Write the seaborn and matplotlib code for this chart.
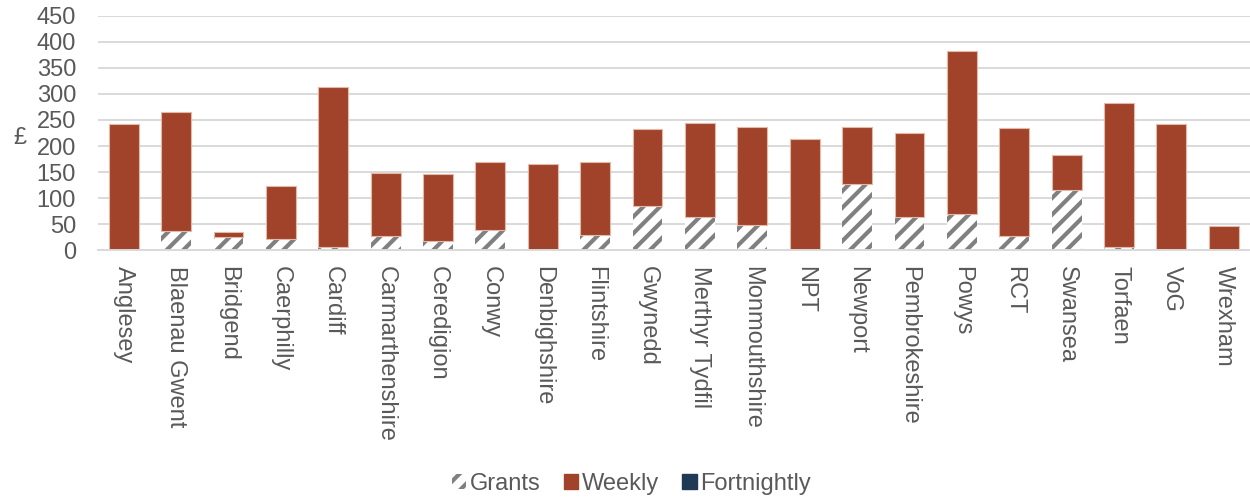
import matplotlib
matplotlib.use("Agg")
import matplotlib.pyplot as plt
from matplotlib.patches import Patch
import seaborn as sns
import pandas as pd
import numpy as np

categories = ["Anglesey", "Blaenau Gwent", "Bridgend", "Caerphilly", "Cardiff",
              "Carmarthenshire", "Ceredigion", "Conwy", "Denbighshire", "Flintshire",
              "Gwynedd", "Merthyr Tydfil", "Monmouthshire", "NPT", "Newport",
              "Pembrokeshire", "Powys", "RCT", "Swansea", "Torfaen", "VoG", "Wrexham"]
grants = [0, 37, 26, 21, 6, 28, 18, 38, 0, 29,
          85, 64, 49, 0, 128, 63, 70, 28, 116, 6, 0, 0]
weekly = [242, 229, 9, 102, 308, 120, 128, 131, 165, 141,
          147, 180, 188, 213, 108, 162, 312, 206, 67, 277, 242, 47]
fortnightly = [0] * 22
y_ticks = [0, 50, 100, 150, 200, 250, 300, 350, 400, 450]

df = pd.DataFrame({"category": categories, "grants": grants,
                   "weekly": weekly, "fortnightly": fortnightly})

sns.set_theme(style="white")
plt.rcParams["font.family"] = ["Liberation Sans", "DejaVu Sans"]
plt.rcParams["hatch.linewidth"] = 3.0

C_WEEK = "#A0432A"
C_FORT = "#1F3A55"
C_HATCH = "#808080"
TXT = "#595959"

fig = plt.figure(figsize=(12.5, 4.98), dpi=100)
ax = fig.add_axes([0.078, 0.4974, 0.922, 0.4711])

W = 0.57
sns.barplot(data=df, x="category", y="grants", color="white", saturation=1,
            width=W, edgecolor=C_HATCH, linewidth=0, hatch="//", ax=ax,
            order=categories)
sns.barplot(data=df, x="category", y="weekly", color=C_WEEK, saturation=1,
            width=W, edgecolor="#E6B8A8", linewidth=0.8, ax=ax, order=categories,
            bottom=df["grants"].values)
sns.barplot(data=df, x="category", y="fortnightly", color=C_FORT, saturation=1,
            width=W, linewidth=0, ax=ax, order=categories,
            bottom=(df["grants"] + df["weekly"]).values)

ax.set_ylim(0, 450)
ax.set_yticks(y_ticks)
ax.set_xlim(-0.5, len(categories) - 0.5)
ax.set_xlabel("")
ax.set_ylabel("")
ax.yaxis.grid(True, color="#D9D9D9", linewidth=1.4)
ax.set_axisbelow(True)
for s in ["top", "right", "left"]:
    ax.spines[s].set_visible(False)
ax.spines["bottom"].set_color("#D9D9D9")
ax.spines["bottom"].set_linewidth(1.4)

ax.tick_params(axis="y", length=0, pad=15.5, labelsize=17, labelcolor=TXT)
ax.tick_params(axis="x", which="major", length=0, pad=11, labelsize=17,
               labelcolor=TXT, labelrotation=-90)
ax.set_xticks(np.arange(-0.5, len(categories), 1.0), minor=True)
ax.tick_params(axis="x", which="minor", length=5, color="#D9D9D9", width=1.2)
for lbl in ax.get_xticklabels():
    lbl.set_va("top")
    lbl.set_ha("center")

fig.text(20 / 1250, 1 - 138 / 498, "£", fontsize=17, color=TXT,
         ha="center", va="center")

handles = [Patch(facecolor="white", edgecolor=C_HATCH, hatch="//", linewidth=0),
           Patch(facecolor=C_WEEK, edgecolor=C_WEEK),
           Patch(facecolor=C_FORT, edgecolor=C_FORT)]
leg = fig.legend(handles, ["Grants", "Weekly", "Fortnightly"], loc="center",
                 bbox_to_anchor=(0.505, 1 - 484 / 498), ncol=3, frameon=False,
                 fontsize=17, handlelength=0.6, handleheight=0.6,
                 handletextpad=0.15, columnspacing=1.0)
for t in leg.get_texts():
    t.set_color(TXT)

fig.savefig("out.png", dpi=100)
